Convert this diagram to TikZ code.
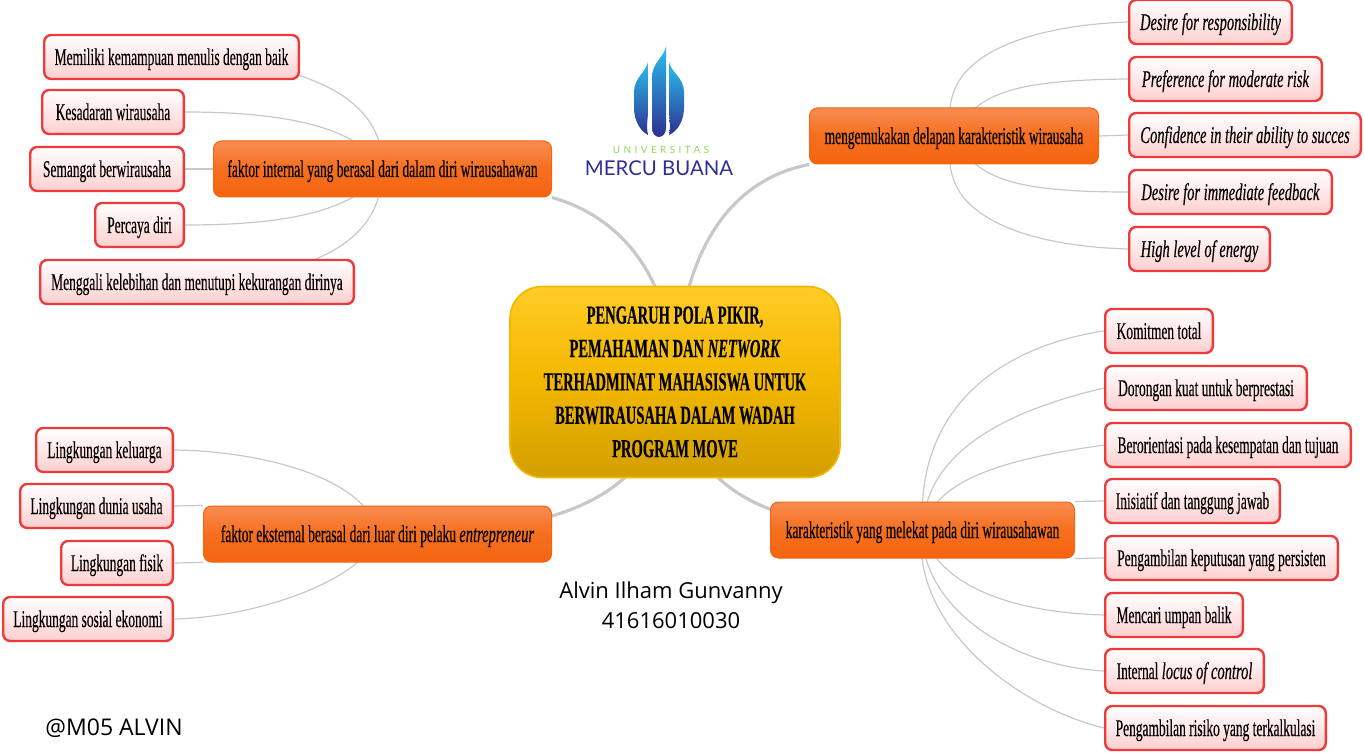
\documentclass[tikz,border=0pt]{standalone}
\usepackage{fontspec}
\usepackage{tikz}
\usetikzlibrary{backgrounds}
\setmainfont[FakeStretch=0.56,FakeBold=0.25,ItalicFeatures={FakeStretch=0.605}]{Liberation Serif}
\newfontfamily\plainfont{Open Sans}
\newfontfamily\logofont{Lato}
\newfontfamily\logospaced[LetterSpace=34]{Lato}
\definecolor{twiggray}{HTML}{C8C8C8}
\definecolor{leafred}{HTML}{EE3A3A}
\definecolor{leafpink}{HTML}{FFCFCF}
\definecolor{branchtop}{HTML}{F98C52}
\definecolor{branchmid}{HTML}{F66F1E}
\definecolor{branchlow}{HTML}{F56410}
\definecolor{goldtop}{HTML}{FFCB25}
\definecolor{goldmid}{HTML}{F2B700}
\definecolor{goldlow}{HTML}{D39F00}
\definecolor{logoblue}{HTML}{2E3192}
\definecolor{logosky}{HTML}{29BFEF}
\definecolor{logogreen}{HTML}{8FD95A}
\tikzset{
  leaf/.style={draw=leafred,line width=1.2pt,rounded corners=3.5pt,top color=white,bottom color=leafpink,
    inner sep=0pt,minimum height=22pt,text height=10pt,text depth=2pt,font=\fontsize{12}{15}\selectfont},
  branch/.style={draw=branchlow,line width=.5pt,rounded corners=4pt,top color=branchtop,bottom color=branchlow,
    middle color=branchmid,inner sep=0pt,minimum height=28pt,text height=10pt,text depth=2pt,font=\fontsize{12}{15}\selectfont},
  twig/.style={twiggray,line width=.6pt},
  limb/.style={twiggray,line width=1.6pt},
}
\begin{document}
\begin{tikzpicture}[x=.5pt,y=-.5pt]
\useasboundingbox (0,0) rectangle (1364,753);
%% main topic
\node[draw=goldmid,line width=.8pt,rounded corners=16pt,top color=goldtop,bottom color=goldlow,
  middle color=goldmid,inner sep=0pt,minimum width=165pt,minimum height=95.5pt,align=center,
  font=\fontsize{13}{16.7}\selectfont\bfseries] (pengaruh) at (675,382)
  {PENGARUH POLA PIKIR,\\PEMAHAMAN DAN \textit{NETWORK}\\TERHADMINAT MAHASISWA UNTUK\\BERWIRAUSAHA DALAM WADAH\\PROGRAM MOVE};
%% branches
\foreach \name/\xa/\xb/\ypos/\txt in {
  internal/213/552/169/faktor internal yang berasal dari dalam diri wirausahawan,
  delapan/809/1099/136/mengemukakan delapan karakteristik wirausaha,
  melekat/770/1075/530/karakteristik yang melekat pada diri wirausahawan,
  eksternal/203/552/534/faktor eksternal berasal dari luar diri pelaku \textit{entrepreneur}}
  \node[branch,minimum width={(\xb-\xa)*.5pt-.5pt}] (\name) at ({(\xa+\xb)/2},\ypos) {\txt};
%% leaves
\foreach \name/\xa/\xb/\ypos/\txt in {
  memiliki/43/300/57/Memiliki kemampuan menulis dengan baik,
  kesadaran/41/185/112/Kesadaran wirausaha,
  semangat/29/185/169/Semangat berwirausaha,
  percaya/94/185/225/Percaya diri,
  menggali/39/355/282/Menggali kelebihan dan menutupi kekurangan dirinya,
  desire/1128/1293/22/\textit{Desire for responsibility},
  preference/1128/1323/79/\textit{Preference for moderate risk},
  confidence/1128/1362/135/\textit{Confidence in their ability to succes},
  feedback/1128/1333/192/\textit{Desire for immediate feedback},
  energy/1128/1271/249/\textit{High level of energy},
  komitmen/1104/1214/331/Komitmen total,
  dorongan/1104/1308/388/Dorongan kuat untuk berprestasi,
  orientasi/1104/1352/445/Berorientasi pada kesempatan dan tujuan,
  inisiatif/1104/1281/501/Inisiatif dan tanggung jawab,
  keputusan/1104/1339/558/Pengambilan keputusan yang persisten,
  umpan/1104/1244/615/Mencari umpan balik,
  locus/1104/1265/671/Internal \textit{locus of control},
  risiko/1104/1327/728/Pengambilan risiko yang terkalkulasi,
  keluarga/35/174/450/Lingkungan keluarga,
  usaha/19/174/506/Lingkungan dunia usaha,
  fisik/60/174/563/Lingkungan fisik,
  sosial/2/174/619/Lingkungan sosial ekonomi}
  \node[leaf,minimum width={(\xb-\xa)*.5pt-1.2pt}] (\name) at ({(\xa+\xb)/2},\ypos) {\txt};
\begin{scope}[on background layer]
\draw[limb] (internal.south east) .. controls (615,215) and (672,270) .. (pengaruh.center);
\draw[limb] (delapan.south west) .. controls (730,180) and (680,250) .. (pengaruh.center);
\draw[limb] (pengaruh.center) .. controls (652,510) and (540,535) .. (eksternal.center);
\draw[limb] (pengaruh.center) .. controls (688,500) and (780,530) .. (melekat.center);
%% faktor internal
\draw[twig] (internal.center) .. controls (385,90) and (290,60) .. (memiliki.center);
\draw[twig] (internal.center) .. controls (355,120) and (260,112) .. (kesadaran.east);
\draw[twig] (internal.west) -- (semangat.east);
\draw[twig] (internal.center) .. controls (355,218) and (260,225) .. (percaya.east);
\draw[twig] (internal.center) .. controls (382,250) and (300,275) .. (menggali.center);
%% delapan karakteristik
\draw[twig] (delapan.center) .. controls (930,60) and (1020,26) .. (desire.west);
\draw[twig] (delapan.center) .. controls (975,95) and (1008,80) .. (preference.west);
\draw[twig] (delapan.east) -- (confidence.west);
\draw[twig] (delapan.center) .. controls (975,177) and (1008,192) .. (feedback.west);
\draw[twig] (delapan.center) .. controls (930,212) and (1020,246) .. (energy.west);
%% melekat
\draw[twig] (melekat.center) .. controls (915,400) and (1010,345) .. (komitmen.west);
\draw[twig] (melekat.center) .. controls (925,450) and (1010,410) .. (dorongan.west);
\draw[twig] (melekat.center) .. controls (935,480) and (1000,460) .. (orientasi.west);
\draw[twig] (melekat.north east) -- (inisiatif.west);
\draw[twig] (melekat.south east) -- (keputusan.west);
\draw[twig] (melekat.center) .. controls (935,580) and (1000,612) .. (umpan.west);
\draw[twig] (melekat.center) .. controls (920,600) and (1000,665) .. (locus.west);
\draw[twig] (melekat.center) .. controls (910,620) and (1010,705) .. (risiko.west);
%% eksternal
\draw[twig] (eksternal.center) .. controls (370,480) and (265,451) .. (keluarga.east);
\draw[twig] (eksternal.north west) -- (usaha.east);
\draw[twig] (eksternal.south west) -- (fisik.east);
\draw[twig] (eksternal.center) .. controls (370,575) and (265,617) .. (sosial.east);
\end{scope}
%% logo
\shade[top color=logosky,bottom color=logoblue] (648,62) .. controls (646,72) and (634,78) .. (634,92)
  -- (634,108) .. controls (634,120) and (640,131) .. (648,135) .. controls (646,125) and (648,120) .. (648,110) -- cycle;
\shade[top color=logosky,bottom color=logoblue] (666,46) .. controls (664,58) and (652,62) .. (652,78)
  -- (652,128) .. controls (652,133) and (655,137) .. (659,137) .. controls (663,137) and (666,133) .. (666,128) -- cycle;
\shade[top color=logosky,bottom color=logoblue] (669,62) .. controls (671,72) and (684,78) .. (684,92)
  -- (684,108) .. controls (684,120) and (678,131) .. (669,135) .. controls (671,125) and (669,120) .. (669,110) -- cycle;
\node[logogreen,font=\logospaced\fontsize{5}{6}\selectfont,inner sep=0pt] (universitas) at (661,150) {UNIVERSITAS};
\node[logoblue,font=\logofont\fontsize{10.2}{14}\selectfont,inner sep=0pt] (mercu) at (659,168) {MERCU BUANA};
%% captions
\node[font=\plainfont\fontsize{11}{15}\selectfont,align=center,inner sep=0pt] (alvin) at (671,605) {Alvin Ilham Gunvanny\\41616010030};
\node[font=\plainfont\fontsize{11.5}{13}\selectfont,inner sep=0pt] (kode) at (114,728) {@M05 ALVIN};
\end{tikzpicture}
\end{document}
